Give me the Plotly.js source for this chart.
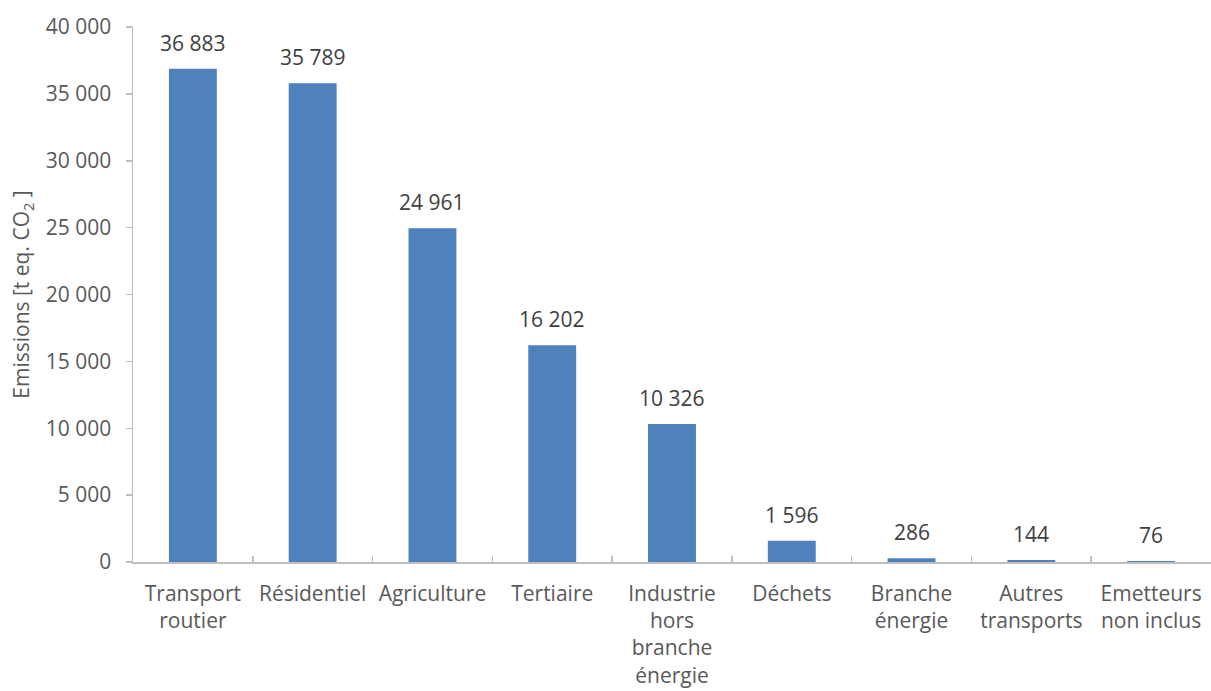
<!DOCTYPE html>
<html>
<head>
<meta charset="utf-8">
<script src="https://cdn.plot.ly/plotly-3.0.1.min.js"></script>
<style>html,body{margin:0;padding:0;background:#fff;}#chart{width:1211px;height:691px;}</style>
</head>
<body>
<div id="chart"></div>
<script>
const categories = ["Transport<br>routier", "Résidentiel", "Agriculture", "Tertiaire", "Industrie<br>hors<br>branche<br>énergie", "Déchets", "Branche<br>énergie", "Autres<br>transports", "Emetteurs<br>non inclus"];
const emissions = [36883, 35789, 24961, 16202, 10326, 1596, 286, 144, 76];
const yTickValues = [0, 5000, 10000, 15000, 20000, 25000, 30000, 35000, 40000];

function fmt(v) {
  return String(v).replace(/\B(?=(\d{3})+(?!\d))/g, " ");
}

const FONT = "Open Sans, Liberation Sans, sans-serif";
const FS = 21;

const trace = {
  type: "bar",
  x: categories,
  y: emissions,
  width: 0.4,
  marker: {color: "#4F81BD", line: {width: 0}},
  hoverinfo: "skip"
};

const annotations = emissions.map((v, i) => ({
  x: categories[i],
  y: v,
  xref: "x",
  yref: "y",
  text: fmt(v),
  showarrow: false,
  yanchor: "bottom",
  yshift: 10,
  font: {family: FONT, size: FS, color: "#404040"}
}));

const layout = {
  width: 1211,
  height: 691,
  margin: {l: 133, r: 0, t: 27, b: 129},
  paper_bgcolor: "#ffffff",
  plot_bgcolor: "#ffffff",
  separators: ", ",
  showlegend: false,
  font: {family: FONT, size: FS, color: "#595959"},
  xaxis: {
    type: "category",
    range: [-0.5, 8.5],
    showgrid: false,
    zeroline: false,
    showline: true,
    linecolor: "#BFBFBF",
    linewidth: 1.5,
    ticks: "inside",
    tickson: "boundaries",
    ticklen: 6,
    tickcolor: "#BFBFBF",
    tickwidth: 1.5,
    tickangle: 0,
    ticklabelstandoff: 12,
    tickfont: {family: FONT, size: FS, color: "#595959"},
    fixedrange: true
  },
  yaxis: {
    range: [0, 40000],
    tickvals: yTickValues,
    ticktext: yTickValues.map(fmt),
    showgrid: false,
    zeroline: false,
    showline: true,
    linecolor: "#BFBFBF",
    linewidth: 1.5,
    ticks: "outside",
    ticklen: 6,
    tickcolor: "#BFBFBF",
    tickwidth: 1.5,
    ticklabelstandoff: 10,
    tickfont: {family: FONT, size: FS, color: "#595959"},
    title: {
      text: "Emissions [t eq. CO<sub>2</sub> ]",
      font: {family: FONT, size: FS, color: "#595959"},
      standoff: 10
    },
    fixedrange: true
  },
  annotations: annotations
};

Plotly.newPlot("chart", [trace], layout, {displayModeBar: false, staticPlot: true});
</script>
</body>
</html>
